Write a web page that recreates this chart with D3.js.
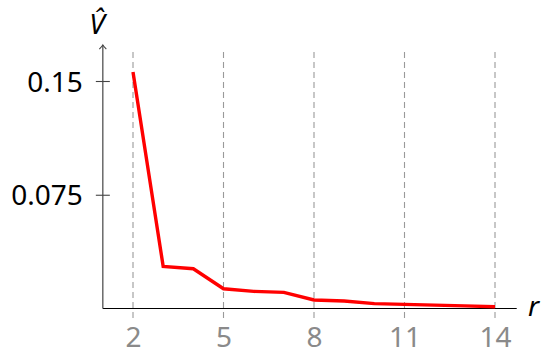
<!DOCTYPE html>
<html>
<head>
<meta charset="utf-8">
<script src="https://cdn.jsdelivr.net/npm/d3@7"></script>
<style>
  html, body { margin: 0; padding: 0; background: #fff; }
  svg { display: block; }
</style>
</head>
<body>
<svg id="chart" width="542" height="358"></svg>
<script>
const rValues = [2, 3, 4, 5, 6, 7, 8, 9, 10, 11, 12, 13, 14];
const vHat = [0.156, 0.0278, 0.0262, 0.0130, 0.0113, 0.0106, 0.0056, 0.0049, 0.0032, 0.0027, 0.0022, 0.0017, 0.0012];
const xTicks = [2, 5, 8, 11, 14];
const yTicks = [0.075, 0.15];
const yTickLabels = ["0.075", "0.15"];
const xLabel = "r";
const yLabel = "V\u0302";

const FONT = "'Noto Sans', sans-serif";
const svg = d3.select("#chart");
const x = d3.scaleLinear().domain([2, 14]).range([133, 495]);
const y = d3.scaleLinear().domain([0, 0.15]).range([308.5, 81]);

const xMin = 1, xMax = 14.72, yMax = 0.1737;

// dashed gridlines
svg.append("g").selectAll("line").data(xTicks).join("line")
  .attr("x1", d => x(d)).attr("x2", d => x(d))
  .attr("y1", 52).attr("y2", 318)
  .attr("stroke", "#9a9a9a").attr("stroke-width", 1.1)
  .attr("stroke-dasharray", "6,4");

// x axis line
svg.append("line")
  .attr("x1", x(xMin)).attr("x2", x(xMax))
  .attr("y1", y(0)).attr("y2", y(0))
  .attr("stroke", "#000").attr("stroke-width", 1.2);

// y axis line with arrow
svg.append("line")
  .attr("x1", x(xMin)).attr("x2", x(xMin))
  .attr("y1", y(0)).attr("y2", y(yMax))
  .attr("stroke", "#444").attr("stroke-width", 1.2);
svg.append("path")
  .attr("d", `M${x(xMin) - 3.5},${y(yMax) + 4} Q${x(xMin) - 0.5},${y(yMax) + 1} ${x(xMin)},${y(yMax)} Q${x(xMin) + 0.5},${y(yMax) + 1} ${x(xMin) + 3.5},${y(yMax) + 4}`)
  .attr("fill", "none").attr("stroke", "#444").attr("stroke-width", 1.1);

// y axis ticks
const yAxis = d3.axisLeft(y).tickValues(yTicks)
  .tickFormat((d, i) => yTickLabels[i]).tickSize(7).tickPadding(13);
const gy = svg.append("g").attr("transform", `translate(${x(xMin)},0)`).call(yAxis);
gy.select(".domain").remove();
gy.selectAll(".tick line").attr("x1", -7).attr("x2", 7).attr("stroke", "#444").attr("stroke-width", 1.1);
gy.selectAll(".tick text")
  .style("font-family", FONT)
  .attr("font-size", 28).attr("fill", "#000").attr("dy", "0.36em");

// x axis tick labels
const xAxis = d3.axisBottom(x).tickValues(xTicks).tickSize(0).tickPadding(19);
const gx = svg.append("g").attr("transform", `translate(0,${y(0)})`).call(xAxis);
gx.select(".domain").remove();
gx.selectAll(".tick text")
  .style("font-family", FONT)
  .attr("font-size", 28).attr("fill", "#8a8a8a").attr("dy", "0.71em");

// data line
const line = d3.line().x((d, i) => x(rValues[i])).y(d => y(d));
svg.append("path").datum(vHat)
  .attr("d", line).attr("fill", "none")
  .attr("stroke", "#ff0000").attr("stroke-width", 3.4)
  .attr("stroke-linejoin", "miter");

// axis labels
svg.append("text").attr("x", 528).attr("y", 316)
  .style("font-family", FONT)
  .attr("font-size", 28).attr("font-style", "italic").attr("text-anchor", "start")
  .text(xLabel);
svg.append("text").attr("x", 97).attr("y", 34)
  .style("font-family", FONT)
  .attr("font-size", 28).attr("font-style", "italic").attr("text-anchor", "middle")
  .text(yLabel);
</script>
</body>
</html>
